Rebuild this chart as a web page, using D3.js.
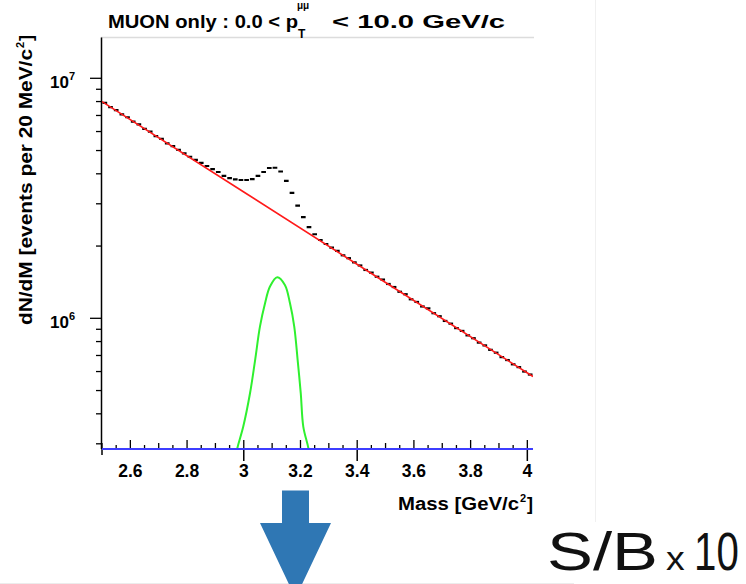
<!DOCTYPE html>
<html>
<head>
<meta charset="utf-8">
<script src="https://cdn.jsdelivr.net/npm/d3@7"></script>
<style>
  html, body { margin: 0; padding: 0; background: #fff; }
  svg { display: block; }
  text { font-family: "Liberation Sans", Arial, Helvetica, sans-serif; }
</style>
</head>
<body>
<svg id="canvas" width="746" height="584"></svg>
<script>
// dimuon mass histogram, 20 MeV/c2 bins starting at 2.50 GeV/c2
const binLow = 2.5;
const binWidth = 0.02;
const counts = [
  7.90e6, 7.58e6, 7.37e6, 7.08e6, 6.88e6, 6.60e6, 6.43e6, 6.16e6, 5.99e6, 5.74e6,
  5.59e6, 5.36e6, 5.22e6, 5.03e6, 4.87e6, 4.71e6, 4.57e6, 4.44e6, 4.31e6, 4.18e6,
  4.07e6, 3.92e6, 3.84e6, 3.79e6, 3.77e6, 3.77e6, 3.80e6, 3.92e6, 4.07e6, 4.23e6,
  4.24e6, 4.09e6, 3.74e6, 3.33e6, 2.95e6, 2.64e6, 2.40e6, 2.24e6, 2.12e6, 2.04e6,
  1.97e6, 1.91e6, 1.83e6, 1.78e6, 1.71e6, 1.66e6, 1.59e6, 1.55e6, 1.49e6, 1.45e6,
  1.39e6, 1.35e6, 1.29e6, 1.26e6, 1.20e6, 1.17e6, 1.12e6, 1.10e6, 1.05e6, 1.02e6,
  9.75e5, 9.50e5, 9.10e5, 8.86e5, 8.49e5, 8.26e5, 7.92e5, 7.71e5, 7.39e5, 7.19e5,
  6.89e5, 6.70e5, 6.43e5, 6.26e5, 6.00e5, 5.83e5
];

// background fit (red), read at a few masses
const bkgMass = [2.5, 3.0, 3.5, 4.02];
const bkgCounts = [8.0e6, 3.36e6, 1.41e6, 5.72e5];

// signal shape (green)
const sigMass = [2.960, 2.977, 2.998, 3.022, 3.040, 3.057, 3.075, 3.092, 3.118,
                 3.145, 3.163, 3.178, 3.190, 3.201, 3.210, 3.228, 3.240];
const sigCounts = [2.3e5, 2.87e5, 3.53e5, 4.87e5, 6.70e5, 9.23e5, 1.155e6, 1.354e6, 1.483e6,
                   1.377e6, 1.155e6, 9.23e5, 6.70e5, 4.87e5, 3.53e5, 2.87e5, 2.3e5];

const xLabels = [2.6, 2.8, 3.0, 3.2, 3.4, 3.6, 3.8, 4.0];
const xDownTicks = [2.5, 3.0, 3.4, 4.0];
const yLabels = [{ v: 1e6, exp: "6" }, { v: 1e7, exp: "7" }];

const svg = d3.select("#canvas");

const x = d3.scaleLinear().domain([2.5, 4.02]).range([102, 533]);
const y = d3.scaleLog().domain([2.854e5, 1.479e7]).range([449, 37.5]);

const [x0, x1] = x.range();
const [yb, yt] = y.range();

// faint slide edges
svg.append("line").attr("x1", 595.5).attr("x2", 595.5).attr("y1", 0).attr("y2", 522)
  .style("stroke", "#f0f0f0");
svg.append("line").attr("x1", 0).attr("x2", 574).attr("y1", 583.5).attr("y2", 583.5)
  .style("stroke", "#ececec");

// frame top
svg.append("line").attr("x1", x0 - 1).attr("x2", x1 + 1).attr("y1", yt).attr("y2", yt)
  .style("stroke", "#dcdcdc").style("stroke-width", 1.5);

svg.append("clipPath").attr("id", "plotClip")
  .append("rect").attr("x", x0).attr("y", yt).attr("width", x1 - x0).attr("height", yb - yt);

// ---- y axis (log)
const yAxisG = svg.append("g").attr("class", "yaxis");
yAxisG.append("line").attr("x1", x0 - 0.5).attr("x2", x0 - 0.5).attr("y1", yt).attr("y2", yb)
  .style("stroke", "#000").style("stroke-width", 1.5);

yAxisG.selectAll("line.tick")
  .data(y.ticks())
  .join("line")
  .attr("class", "tick")
  .attr("x1", (d) => (yLabels.some((l) => l.v === d) ? x0 - 12 : x0 - 6))
  .attr("x2", x0)
  .attr("y1", (d) => y(d))
  .attr("y2", (d) => y(d))
  .style("stroke", "#000")
  .style("stroke-width", 1.3);

const yLab = yAxisG.selectAll("text.lab")
  .data(yLabels)
  .join("text")
  .attr("class", "lab")
  .attr("x", 50)
  .attr("y", (d) => y(d.v) + 9.5)
  .style("font-size", "17px")
  .style("font-weight", "bold");
yLab.append("tspan").text("10");
yLab.append("tspan").attr("dy", -8).style("font-size", "11px").text((d) => d.exp);

// y title
const yTitle = svg.append("g").attr("transform", "translate(32,325) rotate(-90)")
  .style("font-weight", "bold").style("font-size", "18px");
yTitle.append("text").attr("x", 0).attr("y", 0)
  .attr("textLength", 276).attr("lengthAdjust", "spacingAndGlyphs")
  .text("dN/dM  [events per 20 MeV/c");
yTitle.append("text").attr("x", 277).attr("y", -8).style("font-size", "11px").text("2");
yTitle.append("text").attr("x", 284).attr("y", 0).text("]");

// ---- x axis
const xAxisG = svg.append("g").attr("class", "xaxis");
xAxisG.append("line").attr("x1", x0).attr("x2", x1).attr("y1", yb).attr("y2", yb)
  .style("stroke", "#000").style("stroke-width", 1.5);

xAxisG.selectAll("line.tick")
  .data(d3.range(2.5, 4.001, 0.05))
  .join("line")
  .attr("class", "tick")
  .attr("x1", (d) => x(d))
  .attr("x2", (d) => x(d))
  .attr("y1", yb)
  .attr("y2", (d) => {
    const h = Math.round(d * 100);
    return yb - (h % 20 === 0 ? 9 : h % 10 === 0 ? 6 : 4);
  })
  .style("stroke", "#000")
  .style("stroke-width", 1.3);

xAxisG.selectAll("line.down")
  .data(xDownTicks)
  .join("line")
  .attr("class", "down")
  .attr("x1", (d) => x(d))
  .attr("x2", (d) => x(d))
  .attr("y1", yb)
  .attr("y2", (d) => yb + (d === 2.5 ? 6 : 12))
  .style("stroke", "#000")
  .style("stroke-width", 1.5);

xAxisG.selectAll("text")
  .data(xLabels)
  .join("text")
  .attr("x", (d) => x(d))
  .attr("y", 477)
  .attr("text-anchor", "middle")
  .style("font-size", "17.5px")
  .style("font-weight", "bold")
  .text((d) => (Number.isInteger(d) ? d : d.toFixed(1)));

// x title
const xTitle = svg.append("g").style("font-weight", "bold").style("font-size", "18px");
xTitle.append("text").attr("x", 398).attr("y", 510)
  .attr("textLength", 121).attr("lengthAdjust", "spacingAndGlyphs")
  .text("Mass  [GeV/c");
xTitle.append("text").attr("x", 520).attr("y", 502).style("font-size", "11px").text("2");
xTitle.append("text").attr("x", 527).attr("y", 510).text("]");

// ---- plot title
const title = svg.append("g").style("font-weight", "bold").style("font-size", "18px");
title.append("text").attr("x", 108).attr("y", 28)
  .attr("textLength", 190).attr("lengthAdjust", "spacingAndGlyphs")
  .text("MUON only : 0.0 < p");
title.append("text").attr("x", 298).attr("y", 38).style("font-size", "12px").text("T");
title.append("text").attr("x", 297).attr("y", 9).style("font-size", "10px").text("\u03bc\u03bc");
title.append("text").attr("x", 332).attr("y", 28)
  .attr("textLength", 173).attr("lengthAdjust", "spacingAndGlyphs")
  .text("< 10.0 GeV/c");

// ---- data
const plot = svg.append("g").attr("clip-path", "url(#plotClip)");

plot.selectAll("line.bin")
  .data(counts)
  .join("line")
  .attr("class", "bin")
  .attr("x1", (d, i) => x(binLow + i * binWidth) + 0.5)
  .attr("x2", (d, i) => x(binLow + (i + 1) * binWidth) - 0.5)
  .attr("y1", (d) => y(d))
  .attr("y2", (d) => y(d))
  .style("stroke", "#000")
  .style("stroke-width", 2.2);

const bkgLine = d3.line()
  .x((d, i) => x(bkgMass[i]))
  .y((d) => y(d));
plot.append("path")
  .datum(bkgCounts)
  .attr("d", bkgLine)
  .style("fill", "none")
  .style("stroke", "#ff1a1a")
  .style("stroke-width", 1.6);

const sigLine = d3.line()
  .curve(d3.curveCatmullRom)
  .x((d, i) => x(sigMass[i]))
  .y((d) => y(d));
plot.append("path")
  .datum(sigCounts)
  .attr("d", sigLine)
  .style("fill", "none")
  .style("stroke", "#2ff02f")
  .style("stroke-width", 2);

// zero line along the bottom
svg.append("line").attr("x1", x0).attr("x2", x1).attr("y1", yb).attr("y2", yb)
  .style("stroke", "#3d3dff").style("stroke-width", 2);

// ---- arrow and note
svg.append("path")
  .attr("d", "M282,490.5 L309,490.5 L309,523 L331,523 L295.5,598 L260,523 L282,523 Z")
  .style("fill", "#2f77b4");

// slide lettering: wide "S/B", small "x", narrow "10"
const note = svg.append("g").style("font-family", "Lato, 'Open Sans', sans-serif")
  .style("font-weight", 300).style("fill", "#111");
note.append("text").attr("transform", "translate(547,570) scale(1.3,1)")
  .style("font-size", "53px").text("S/B");
note.append("text").attr("transform", "translate(666,570) scale(1.1,1)")
  .style("font-size", "34px").text("x");
note.append("text").attr("transform", "translate(694,570) scale(0.76,1)")
  .style("font-size", "53px").text("10");
</script>
</body>
</html>
